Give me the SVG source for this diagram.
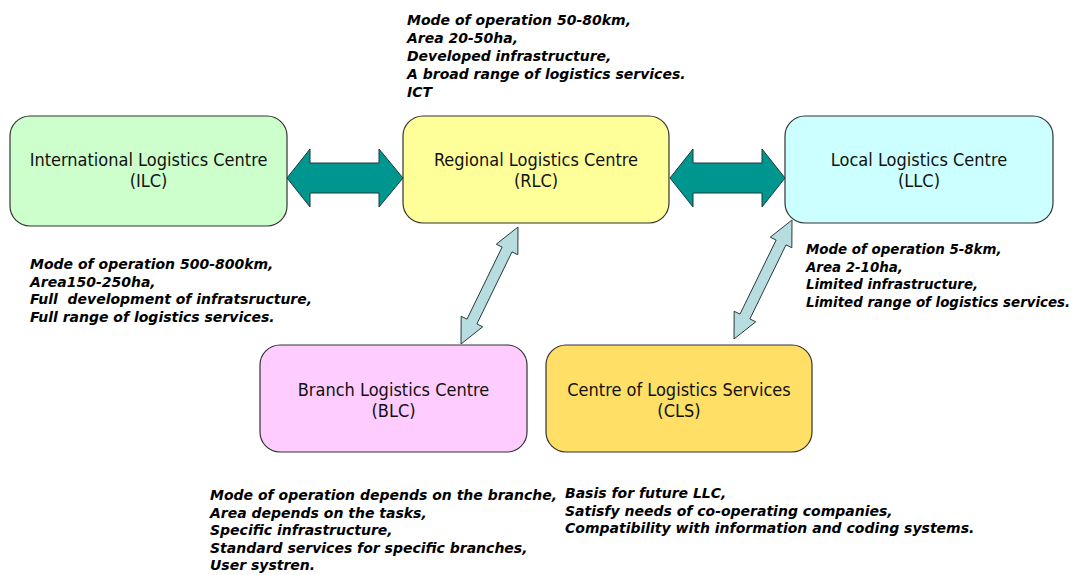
<svg xmlns="http://www.w3.org/2000/svg" width="1078" height="575" viewBox="0 0 1078 575">
<style>
.box{stroke:#333;stroke-width:1.2}
.lbl{font-family:"DejaVu Sans Condensed","DejaVu Sans","Liberation Sans",sans-serif;font-size:18px;fill:#111;text-anchor:middle}
.note{font-family:"DejaVu Sans","Liberation Sans",sans-serif;font-size:14px;font-weight:bold;font-style:italic;fill:#000;white-space:pre}
.sm{font-size:13.4px}
.big{fill:#009690;stroke:#1a3a3a;stroke-width:1}
.thin{fill:#b7dde1;stroke:#2a3a3a;stroke-width:1}
</style>
<rect width="1078" height="575" fill="#fff"/>
<g id="connectors">
<polygon class="big" points="287,178 310,149 310,163 379,163 379,149 403,178 379,207 379,193 310,193 310,207"/>
<polygon class="big" points="670,178 693,149 693,163 762,163 762,149 785,178 762,207 762,193 693,193 693,207"/>
<polygon class="thin" points="518,227 517.84,254.74 511.99,251.89 476.89,323.93 482.74,326.78 461,344 461.16,316.26 467.01,319.11 502.11,247.07 496.26,244.22"/>
<polygon class="thin" points="792,220 791.84,247.74 785.99,244.89 749.89,318.93 755.74,321.78 734,339 734.16,311.26 740.01,314.11 776.11,240.07 770.26,237.22"/>
</g>
<g id="ILC">
<rect class="box" x="10" y="116" width="277" height="110" rx="20" fill="#ccffcc"/>
<text class="lbl" x="148.5" y="166">International Logistics Centre</text>
<text class="lbl" x="148.5" y="187">(ILC)</text>
</g>
<g id="RLC">
<rect class="box" x="403" y="116" width="266" height="107" rx="20" fill="#ffff99"/>
<text class="lbl" x="536" y="166">Regional Logistics Centre</text>
<text class="lbl" x="536" y="187">(RLC)</text>
</g>
<g id="LLC">
<rect class="box" x="785" y="116" width="268" height="107" rx="20" fill="#ccffff"/>
<text class="lbl" x="919" y="166">Local Logistics Centre</text>
<text class="lbl" x="919" y="187">(LLC)</text>
</g>
<g id="BLC">
<rect class="box" x="260" y="345" width="267" height="107" rx="20" fill="#ffccff"/>
<text class="lbl" x="393.5" y="396">Branch Logistics Centre</text>
<text class="lbl" x="393.5" y="417">(BLC)</text>
</g>
<g id="CLS">
<rect class="box" x="546" y="345" width="266" height="107" rx="20" fill="#ffdf65"/>
<text class="lbl" x="679" y="396">Centre of Logistics Services</text>
<text class="lbl" x="679" y="417">(CLS)</text>
</g>
<g id="notes">
<text class="note" x="407" y="25">Mode of operation 50-80km,</text>
<text class="note" x="407" y="43">Area 20-50ha,</text>
<text class="note" x="407" y="61">Developed infrastructure,</text>
<text class="note" x="407" y="79">A broad range of logistics services.</text>
<text class="note" x="407" y="97">ICT</text>
<text class="note" x="30" y="269">Mode of operation 500-800km,</text>
<text class="note" x="30" y="286.5">Area150-250ha,</text>
<text class="note" x="30" y="304" xml:space="preserve">Full  development of infratsructure,</text>
<text class="note" x="30" y="321.5">Full range of logistics services.</text>
<text class="note sm" x="806" y="254">Mode of operation 5-8km,</text>
<text class="note sm" x="806" y="271.5">Area 2-10ha,</text>
<text class="note sm" x="806" y="289">Limited infrastructure,</text>
<text class="note sm" x="806" y="306.5">Limited range of logistics services.</text>
<text class="note" x="210" y="500">Mode of operation depends on the branche,</text>
<text class="note" x="210" y="517.5">Area depends on the tasks,</text>
<text class="note" x="210" y="535">Specific infrastructure,</text>
<text class="note" x="210" y="552.5">Standard services for specific branches,</text>
<text class="note" x="210" y="570">User systren.</text>
<text class="note" x="565" y="498">Basis for future LLC,</text>
<text class="note" x="565" y="515.5">Satisfy needs of co-operating companies,</text>
<text class="note" x="565" y="533">Compatibility with information and coding systems.</text>
</g>
</svg>
